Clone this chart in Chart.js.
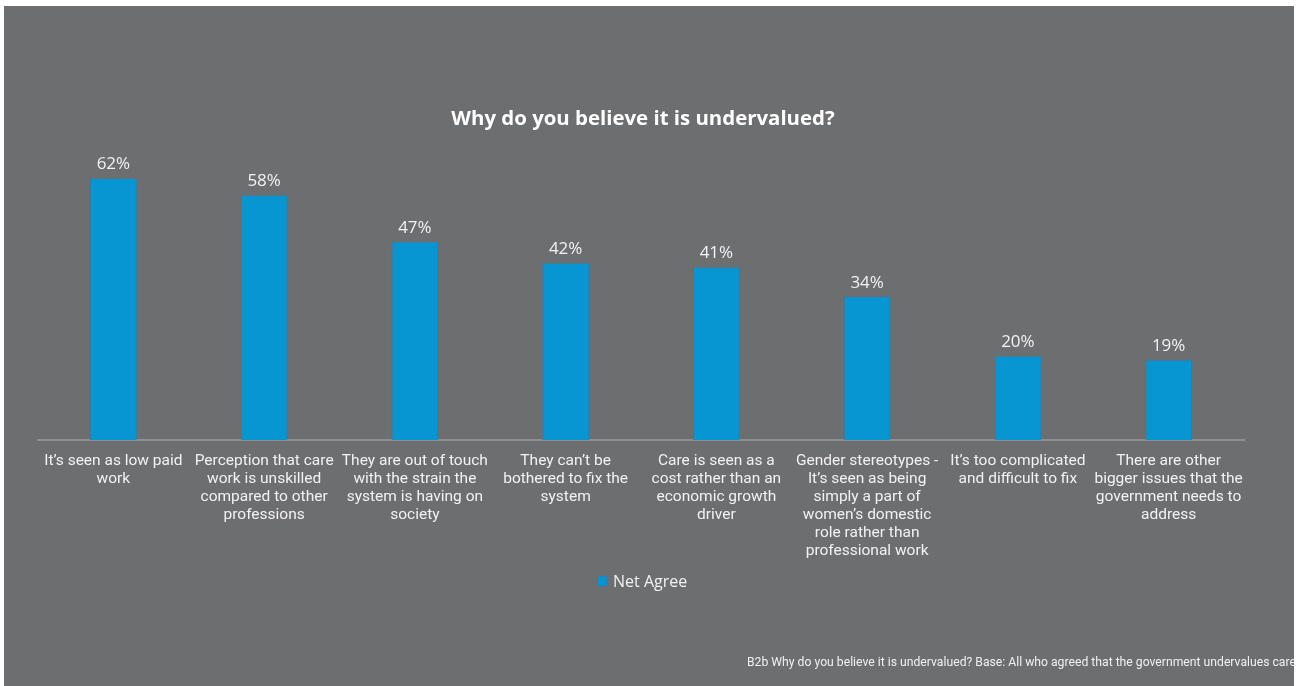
<!DOCTYPE html>
<html>
<head>
<meta charset="utf-8">
<script src="https://cdn.jsdelivr.net/npm/chart.js@4.4.1/dist/chart.umd.min.js"></script>
<style>
    html, body { margin: 0; padding: 0; background: #ffffff; }
    #panel {
        position: absolute; left: 4px; top: 6px; width: 1290px; height: 680px;
        background: #6d6e70; overflow: hidden;
    }
    #wrap { position: absolute; left: -4px; top: -6px; width: 1297px; height: 686px; }
    #title {
        position: absolute; left: -6px; width: 1290px; top: 97px; text-align: center;
        font: bold 20.4px 'Open Sans', sans-serif; color: #ffffff;
    }
    #legend {
        position: absolute; left: 593px; top: 564px;
        font: 16px 'Open Sans', sans-serif; color: #f2f2f2; white-space: nowrap;
    }
    #legend span.box {
        display: inline-block; width: 8px; height: 8px; background: #0896d3;
        border: 1px solid #2a7fae; margin-right: 6px; vertical-align: 1px;
    }
    #note {
        position: absolute; left: 743px; top: 649px; white-space: nowrap;
        font: 12.2px Roboto, sans-serif; color: #f0f0f0;
    }
</style>
</head>
<body>
<div id="panel">
    <div id="wrap"><canvas id="chart" width="1297" height="686"></canvas></div>
    <div id="title">Why do you believe it is undervalued?</div>
    <div id="legend"><span class="box"></span>Net Agree</div>
    <div id="note">B2b Why do you believe it is undervalued? Base: All who agreed that the government undervalues care work</div>
</div>
<script>
    // Datos del gráfico
    const categories = [
        ['It\u2019s seen as low paid', 'work'],
        ['Perception that care', 'work is unskilled', 'compared to other', 'professions'],
        ['They are out of touch', 'with the strain the', 'system is having on', 'society'],
        ['They can\u2019t be', 'bothered to fix the', 'system'],
        ['Care is seen as a', 'cost rather than an', 'economic growth', 'driver'],
        ['Gender stereotypes -', 'It\u2019s seen as being', 'simply a part of', 'women\u2019s domestic', 'role rather than', 'professional work'],
        ['It\u2019s too complicated', 'and difficult to fix'],
        ['There are other', 'bigger issues that the', 'government needs to', 'address']
    ];
    const netAgree = [62, 58, 47, 42, 41, 34, 20, 19];
    const seriesName = 'Net Agree';

    // Etiquetas de valor encima de cada barra
    const valueLabels = {
        id: 'valueLabels',
        afterDatasetsDraw(chart) {
            const ctx = chart.ctx;
            const meta = chart.getDatasetMeta(0);
            ctx.save();
            ctx.font = "17px 'Open Sans', sans-serif";
            ctx.fillStyle = '#f2f2f2';
            ctx.textAlign = 'center';
            ctx.textBaseline = 'bottom';
            meta.data.forEach((bar, i) => {
                ctx.fillText(netAgree[i] + '%', bar.x, bar.y - 5);
            });
            ctx.restore();
        }
    };

    new Chart(document.getElementById('chart'), {
        type: 'bar',
        data: {
            labels: categories,
            datasets: [{
                label: seriesName,
                data: netAgree,
                backgroundColor: '#0896d3',
                borderColor: '#2382b6',
                borderWidth: 1,
                barPercentage: 1,
                categoryPercentage: 0.31
            }]
        },
        options: {
            responsive: false,
            animation: false,
            layout: { padding: { left: 38, right: 53, top: 144, bottom: 106 } },
            plugins: {
                legend: { display: false },
                tooltip: { enabled: false }
            },
            scales: {
                x: {
                    grid: { display: false, drawTicks: false },
                    border: { display: true, color: '#8e8f91', width: 2 },
                    ticks: {
                        autoSkip: false,
                        maxRotation: 0,
                        padding: 12,
                        color: '#f2f2f2',
                        font: { family: 'Roboto', size: 15.5, lineHeight: 1.16 }
                    },
                    afterFit(scale) { scale.height = 140; }
                },
                y: {
                    display: false,
                    min: 0,
                    max: 70
                }
            }
        },
        plugins: [valueLabels]
    });
</script>
</body>
</html>
